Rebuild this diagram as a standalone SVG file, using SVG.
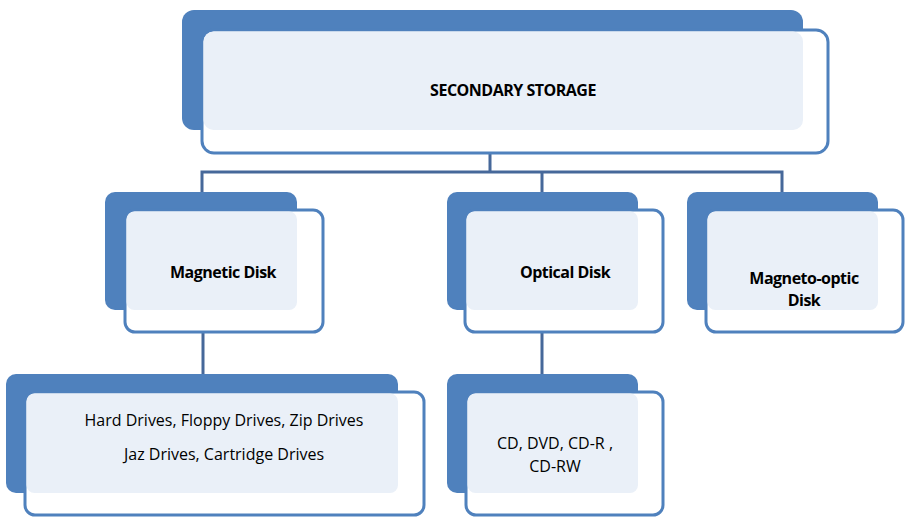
<svg xmlns="http://www.w3.org/2000/svg" width="905" height="524" viewBox="0 0 905 524">
<style>
.back{fill:#4F81BD}
.front{fill:#ffffff;stroke:#4F81BD;stroke-width:3}
.ov{fill:#EAF0F8}
.t{font-family:"Open Sans","Liberation Sans",sans-serif;font-size:16px;fill:#000;text-anchor:middle}
.b{font-weight:bold;letter-spacing:-0.5px}
.c{fill:none;stroke:#46689A;stroke-width:3}
</style>
<rect width="905" height="524" fill="#fff"/>
<g id="connectors">
<path class="c" d="M490 130V172M202 192V172H782V192M542 172V192M203 310V374M542 310V374"/>
</g>
<g id="secondary">
<rect class="back" x="182" y="10" width="621" height="120" rx="12"/>
<rect class="front" x="202" y="30" width="626" height="123" rx="12"/>
<rect class="ov" x="203.5" y="31.5" width="599.5" height="98.5" rx="10"/>
<text class="t b" x="513" y="96">SECONDARY STORAGE</text>
</g>
<g id="magnetic">
<rect class="back" x="105" y="192" width="192" height="118" rx="10"/>
<rect class="front" x="125" y="210" width="198" height="122" rx="10"/>
<rect class="ov" x="126.5" y="211.5" width="170.5" height="98.5" rx="8"/>
<text class="t b" x="223" y="278">Magnetic Disk</text>
</g>
<g id="optical">
<rect class="back" x="447" y="192" width="191" height="118" rx="10"/>
<rect class="front" x="465" y="210" width="198" height="122" rx="10"/>
<rect class="ov" x="466.5" y="211.5" width="171.5" height="98.5" rx="8"/>
<text class="t b" x="565" y="278">Optical Disk</text>
</g>
<g id="magneto">
<rect class="back" x="687" y="192" width="191" height="118" rx="10"/>
<rect class="front" x="706" y="210" width="197" height="122" rx="10"/>
<rect class="ov" x="707.5" y="211.5" width="170.5" height="98.5" rx="8"/>
<text class="t b" x="804" y="284">Magneto-optic</text>
<text class="t b" x="804" y="306">Disk</text>
</g>
<g id="drives">
<rect class="back" x="6" y="374" width="392" height="119" rx="10"/>
<rect class="front" x="25" y="392" width="399" height="123" rx="10"/>
<rect class="ov" x="26.5" y="393.5" width="371.5" height="99.5" rx="8"/>
<text class="t" x="224" y="426">Hard Drives, Floppy Drives, Zip Drives</text>
<text class="t" x="224" y="460">Jaz Drives, Cartridge Drives</text>
</g>
<g id="cd">
<rect class="back" x="447" y="374" width="191" height="119" rx="10"/>
<rect class="front" x="466" y="392" width="197" height="123" rx="10"/>
<rect class="ov" x="467.5" y="393.5" width="170.5" height="99.5" rx="8"/>
<text class="t" x="555" y="449">CD,  DVD, CD-R ,</text>
<text class="t" x="555" y="472">CD-RW</text>
</g>
</svg>
